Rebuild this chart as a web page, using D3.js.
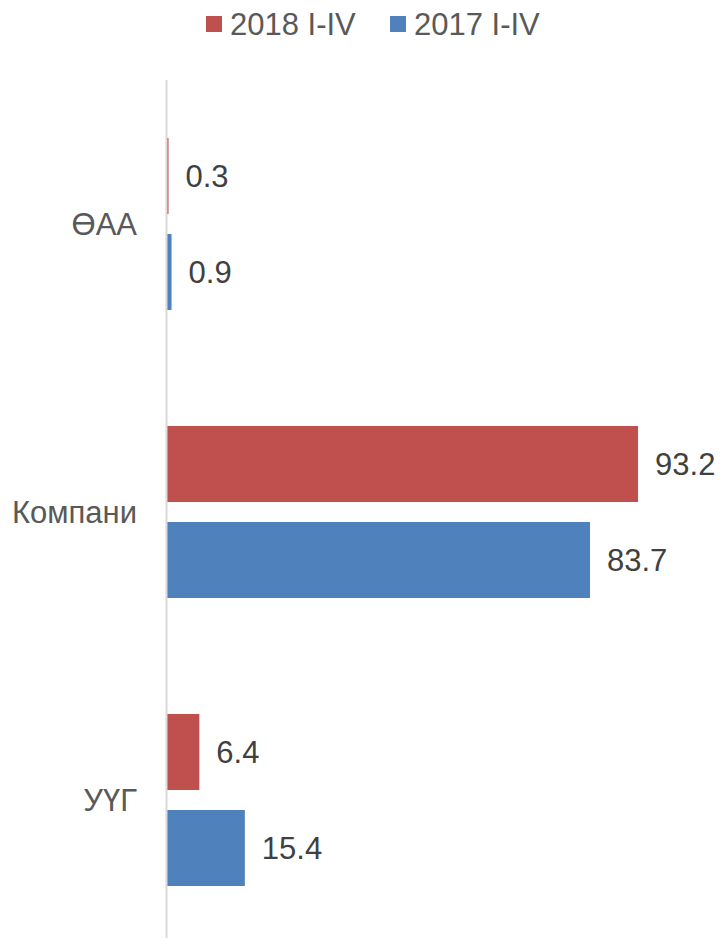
<!DOCTYPE html>
<html>
<head>
<meta charset="utf-8">
<script src="https://cdn.jsdelivr.net/npm/d3@7"></script>
<style>
  body { margin: 0; background: #fff; }
  text { font-family: "Liberation Sans", Arial, sans-serif; }
</style>
</head>
<body>
<svg id="chart"></svg>
<script>
// chart data
var categories = ['ӨАА', 'Компани', 'УҮГ'];
var seriesNames = ['2018 I-IV', '2017 I-IV'];
var values2018 = [0.3, 93.2, 6.4];
var values2017 = [0.9, 83.7, 15.4];
var colors = ['#C0504D', '#4F81BD'];

var chartWidth = 721, chartHeight = 938;
var plotLeft = 167, plotTop = 80, plotBottom = 944;

var svg = d3.select('#chart')
    .attr('width', chartWidth)
    .attr('height', chartHeight);

var rows = categories.map(function(c, i) {
    return {cat: c, vals: [values2018[i], values2017[i]]};
});

//scales
var x = d3.scaleLinear()
    .domain([0, 100])
    .range([plotLeft, plotLeft + 505.4]);

var y = d3.scaleBand()
    .domain(categories)
    .range([plotTop, plotBottom]);

var ySub = d3.scaleBand()
    .domain(seriesNames)
    .range([58, y.bandwidth() - 58])
    .paddingInner(20 / 96);

//bars
var groups = svg.append('g')
    .attr('class', 'bars')
    .selectAll('g')
    .data(rows)
    .enter()
    .append('g')
    .attr('transform', function(d) { return 'translate(0,' + y(d.cat) + ')'; });

groups.selectAll('rect')
    .data(function(d) { return d.vals.map(function(v, j) { return {v: v, s: seriesNames[j], j: j}; }); })
    .enter()
    .append('rect')
    .attr('x', x(0))
    .attr('y', function(d) { return ySub(d.s); })
    .attr('width', function(d) { return Math.max(x(d.v) - x(0), 1.5); })
    .attr('height', ySub.bandwidth())
    .attr('fill', function(d) { return colors[d.j]; });

groups.selectAll('text.val')
    .data(function(d) { return d.vals.map(function(v, j) { return {v: v, s: seriesNames[j]}; }); })
    .enter()
    .append('text')
    .attr('class', 'val')
    .attr('x', function(d) { return x(d.v) + 17; })
    .attr('y', function(d) { return ySub(d.s) + ySub.bandwidth() / 2; })
    .attr('dy', '0.36em')
    .attr('font-size', '31px')
    .attr('fill', '#404040')
    .text(function(d) { return d3.format('.1f')(d.v); });

//axis line and category labels
svg.append('line')
    .attr('x1', x(0) - 0.5)
    .attr('x2', x(0) - 0.5)
    .attr('y1', plotTop)
    .attr('y2', plotBottom)
    .attr('stroke', '#D9D9D9')
    .attr('stroke-width', 2);

svg.append('g')
    .attr('class', 'cats')
    .selectAll('text')
    .data(categories)
    .enter()
    .append('text')
    .attr('x', plotLeft - 30)
    .attr('y', function(d) { return y(d) + y.bandwidth() / 2; })
    .attr('dy', '0.36em')
    .attr('text-anchor', 'end')
    .attr('font-size', '31px')
    .attr('fill', '#595959')
    .text(function(d) { return d; });

//legend
var legendX = [206, 390];
var legend = svg.append('g')
    .attr('class', 'legend')
    .selectAll('g')
    .data(seriesNames)
    .enter()
    .append('g')
    .attr('transform', function(d, i) { return 'translate(' + legendX[i] + ',16)'; });

legend.append('rect')
    .attr('width', 16)
    .attr('height', 16)
    .attr('fill', function(d, i) { return colors[i]; });

legend.append('text')
    .attr('x', 24)
    .attr('y', 8)
    .attr('dy', '0.36em')
    .attr('font-size', '31px')
    .attr('fill', '#595959')
    .text(function(d) { return d; });
</script>
</body>
</html>
